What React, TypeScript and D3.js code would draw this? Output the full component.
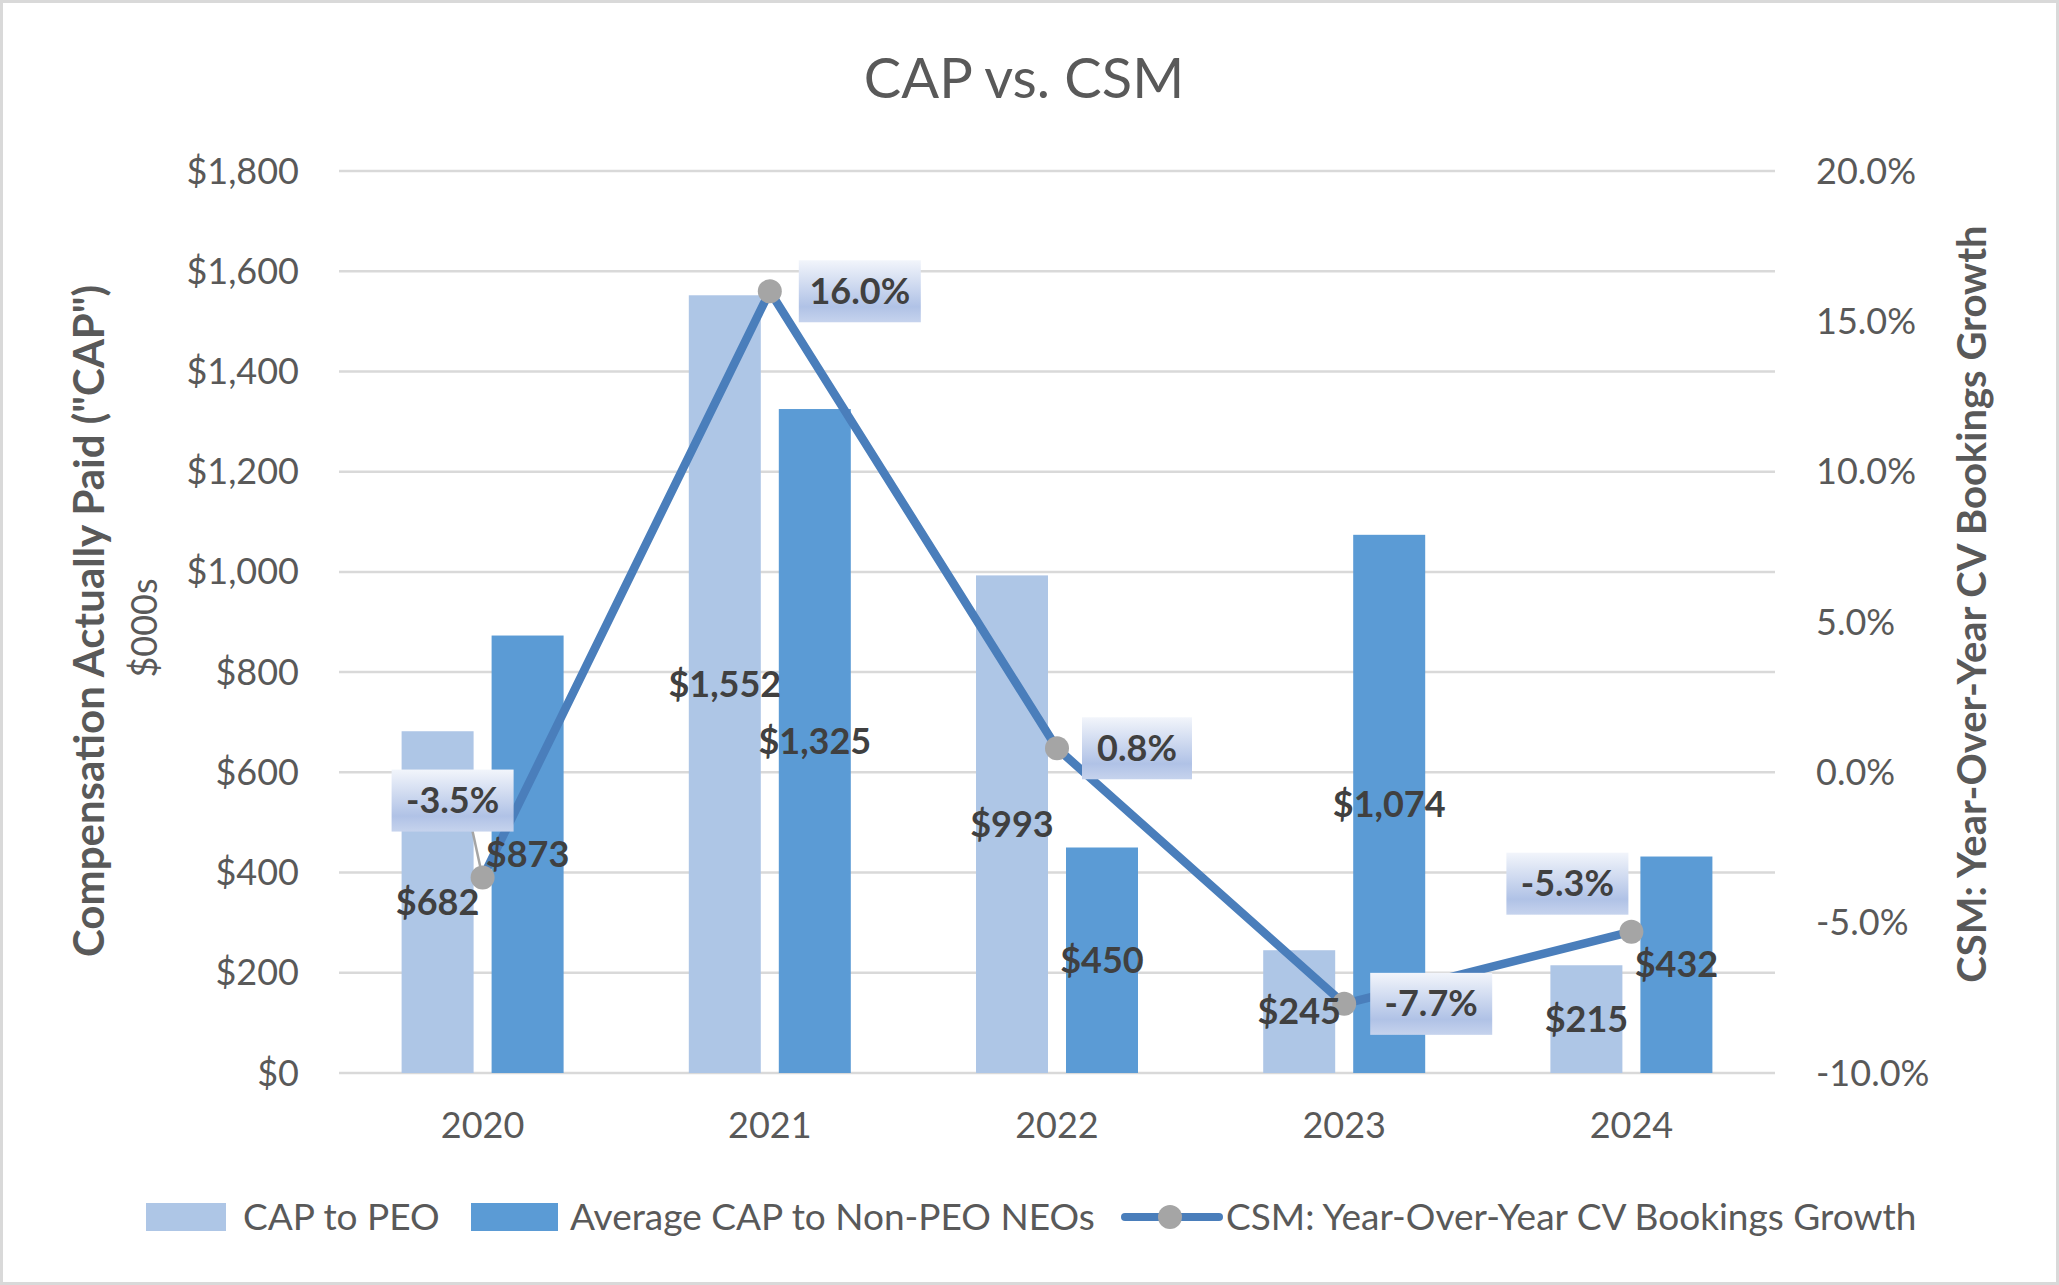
import * as d3 from "d3";

const YEARS = ["2020", "2021", "2022", "2023", "2024"];
const CAP_PEO = [682, 1552, 993, 245, 215];
const CAP_NEO = [873, 1325, 450, 1074, 432];
const CSM_GROWTH = [-3.5, 16.0, 0.8, -7.7, -5.3];
const LEFT_TICKS = [0, 200, 400, 600, 800, 1000, 1200, 1400, 1600, 1800];
const RIGHT_TICKS = [-10, -5, 0, 5, 10, 15, 20];

// where each growth label box sits relative to its marker (px)
const LINE_LABEL_OFFSET: [number, number][] = [
  [-30, -77],
  [90, 0],
  [80, 0],
  [87, 0],
  [-64, -48],
];

const W = 2059;
const H = 1285;
const PLOT = { left: 339, right: 1775, top: 171, bottom: 1073 };
const BAR_W = 72;
const BAR_OFF = 45;

const FONT = "Lato, 'Open Sans', sans-serif";
const C_LIGHT = "#aec6e6";
const C_DARK = "#5b9bd5";
const C_LINE = "#4a7ebb";
const C_MARK = "#a5a5a5";
const C_TEXT = "#595959";
const C_LABEL = "#404040";

// d3 uses a unicode minus; the chart shows a plain hyphen
const hyphen = (s: string) => s.replace("\u2212", "-");

export default function App() {
  const x = d3.scaleBand<string>().domain(YEARS).range([PLOT.left, PLOT.right]);
  const yL = d3.scaleLinear().domain([0, 1800]).range([PLOT.bottom, PLOT.top]);
  const yR = d3.scaleLinear().domain([-10, 20]).range([PLOT.bottom, PLOT.top]);
  const cx = (yr: string) => (x(yr) ?? 0) + x.bandwidth() / 2;

  const fmtDollar = d3.format("$,");
  const fmtPct = (v: number) => hyphen(d3.format(".1f")(v)) + "%";

  const linePts: [number, number][] = YEARS.map((yr, i) => [cx(yr), yR(CSM_GROWTH[i])]);
  const linePath = d3.line()(linePts) ?? "";

  return (
    <svg
      width={W}
      height={H}
      style={{ position: "absolute", left: 0, top: 0, fontFamily: FONT }}
    >
      <defs>
        <linearGradient id="lblGrad" x1="0" y1="0" x2="0" y2="1">
          <stop offset="0%" stopColor="#f2f5fb" />
          <stop offset="75%" stopColor="#b0c2e6" />
          <stop offset="100%" stopColor="#c6d3ed" />
        </linearGradient>
      </defs>
      <rect x={1.5} y={1.5} width={W - 3} height={H - 3} fill="#fff" stroke="#d9d9d9" strokeWidth={3} />

      {/* title */}
      <text x={1024} y={78} dy="0.35em" textAnchor="middle" fontSize={56} fill={C_TEXT}>
        CAP vs. CSM
      </text>

      {/* gridlines */}
      {LEFT_TICKS.map((t) => (
        <line key={t} x1={PLOT.left} x2={PLOT.right} y1={yL(t)} y2={yL(t)} stroke="#d9d9d9" strokeWidth={2.5} />
      ))}

      {/* left ticks */}
      {LEFT_TICKS.map((t) => (
        <text key={t} x={299} y={yL(t)} dy="0.35em" textAnchor="end" fontSize={36} fill={C_TEXT}>
          {fmtDollar(t)}
        </text>
      ))}

      {/* right ticks */}
      {RIGHT_TICKS.map((t) => (
        <text key={t} x={1816} y={yR(t)} dy="0.35em" textAnchor="start" fontSize={36} fill={C_TEXT}>
          {fmtPct(t)}
        </text>
      ))}

      {/* x labels */}
      {YEARS.map((yr) => (
        <text key={yr} x={cx(yr)} y={1125} dy="0.35em" textAnchor="middle" fontSize={36} fill={C_TEXT}>
          {yr}
        </text>
      ))}

      {/* axis titles */}
      <text transform="translate(89,621) rotate(-90)" dy="0.35em" textAnchor="middle" fontSize={42} fontWeight="bold" fill={C_TEXT}>
        Compensation Actually Paid ("CAP")
      </text>
      <text transform="translate(144,628) rotate(-90)" dy="0.35em" textAnchor="middle" fontSize={36} fill={C_TEXT}>
        $000s
      </text>
      <text transform="translate(1972,604) rotate(-90)" dy="0.35em" textAnchor="middle" fontSize={40} fontWeight="bold" fill={C_TEXT}>
        CSM: Year-Over-Year CV Bookings Growth
      </text>

      {/* bars */}
      {YEARS.map((yr, i) => (
        <g key={yr}>
          <rect x={cx(yr) - BAR_OFF - BAR_W / 2} y={yL(CAP_PEO[i])} width={BAR_W} height={yL(0) - yL(CAP_PEO[i])} fill={C_LIGHT} />
          <rect x={cx(yr) + BAR_OFF - BAR_W / 2} y={yL(CAP_NEO[i])} width={BAR_W} height={yL(0) - yL(CAP_NEO[i])} fill={C_DARK} />
        </g>
      ))}

      {/* line */}
      <path d={linePath} fill="none" stroke={C_LINE} strokeWidth={8.5} strokeLinejoin="round" />

      {/* leader line for first label */}
      <line
        x1={linePts[0][0] + LINE_LABEL_OFFSET[0][0] + 20}
        y1={linePts[0][1] + LINE_LABEL_OFFSET[0][1] + 31}
        x2={linePts[0][0]}
        y2={linePts[0][1]}
        stroke={C_MARK}
        strokeWidth={2.5}
      />

      {linePts.map(([px, py], i) => (
        <circle key={i} cx={px} cy={py} r={12} fill={C_MARK} />
      ))}

      {/* bar labels, centred in each bar */}
      {YEARS.map((yr, i) => (
        <g key={yr} fontSize={36} fontWeight="bold" fill={C_LABEL} textAnchor="middle">
          <text x={cx(yr) - BAR_OFF} y={yL(CAP_PEO[i] / 2)} dy="0.35em">{fmtDollar(CAP_PEO[i])}</text>
          <text x={cx(yr) + BAR_OFF} y={yL(CAP_NEO[i] / 2)} dy="0.35em">{fmtDollar(CAP_NEO[i])}</text>
        </g>
      ))}

      {/* growth labels */}
      {linePts.map(([px, py], i) => {
        const label = fmtPct(CSM_GROWTH[i]);
        const bw = 62 + 12 * label.length;
        const bh = 62;
        const bx = px + LINE_LABEL_OFFSET[i][0];
        const by = py + LINE_LABEL_OFFSET[i][1];
        return (
          <g key={i}>
            <rect x={bx - bw / 2} y={by - bh / 2} width={bw} height={bh} fill="url(#lblGrad)" />
            <text x={bx} y={by} dy="0.35em" textAnchor="middle" fontSize={36} fontWeight="bold" fill={C_LABEL}>
              {label}
            </text>
          </g>
        );
      })}

      {/* legend */}
      <g fontSize={37} fill={C_TEXT}>
        <rect x={146} y={1203} width={80} height={28} fill={C_LIGHT} />
        <text x={243} y={1217} dy="0.35em">CAP to PEO</text>
        <rect x={471} y={1203} width={87} height={28} fill={C_DARK} />
        <text x={570} y={1217} dy="0.35em">Average CAP to Non-PEO NEOs</text>
        <line x1={1125} x2={1219} y1={1217} y2={1217} stroke={C_LINE} strokeWidth={8} strokeLinecap="round" />
        <circle cx={1170} cy={1217} r={12} fill={C_MARK} />
        <text x={1226} y={1217} dy="0.35em">CSM: Year-Over-Year CV Bookings Growth</text>
      </g>
    </svg>
  );
}
